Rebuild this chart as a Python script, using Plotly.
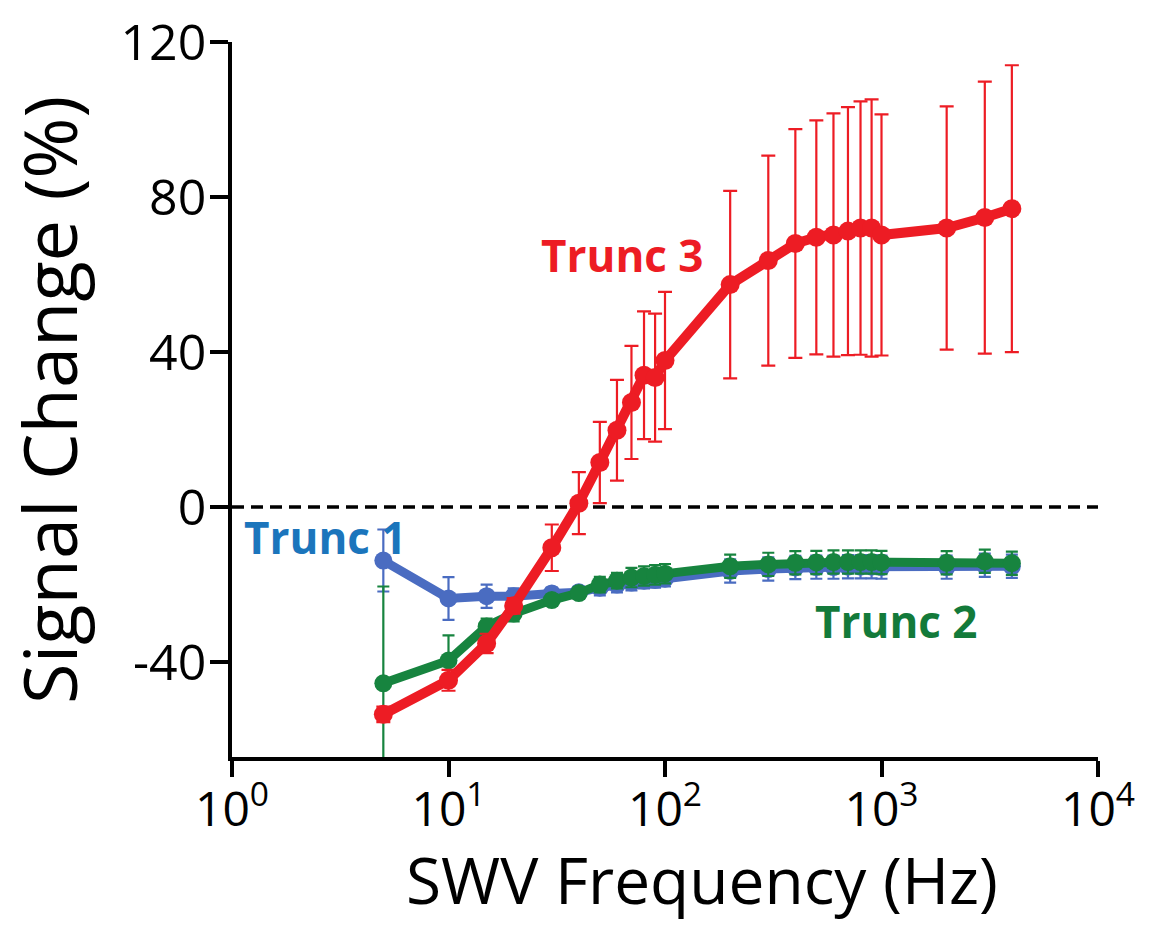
import plotly.graph_objects as go

freq = [5, 10, 15, 20, 30, 40, 50, 60, 70, 80, 90, 100,
        200, 300, 400, 500, 600, 700, 800, 900, 1000, 2000, 3000, 4000]

trunc1 = [-13.8, -23.6, -23.0, -23.0, -22.3, -22.0, -20.8, -20.0, -19.5, -19.0, -18.8, -18.5,
          -16.5, -16.0, -15.6, -15.5, -15.5, -15.4, -15.4, -15.4, -15.5, -15.5, -15.0, -15.3]
trunc1_err = [8, 5.5, 3, 2, 1.5, 1.5, 2, 2, 2, 2, 2, 2,
              3, 3, 3, 3, 3, 3, 3, 3, 3, 3, 3, 3]

trunc2 = [-45.5, -39.6, -30.8, -27.5, -24.0, -22.2, -20.0, -19.0, -18.2, -17.8, -17.5, -17.2,
          -15.3, -14.8, -14.4, -14.3, -14.2, -14.2, -14.2, -14.2, -14.3, -14.4, -14.0, -14.5]
trunc2_err = [25, 6.5, 2, 2, 1.5, 1.5, 2, 2, 2.5, 2.5, 2.5, 2.5,
              3, 3, 3, 3, 3, 3, 3, 3, 3, 3, 3, 3]

trunc3 = [-53.5, -44.7, -35.2, -25.5, -10.5, 1.0, 11.5, 19.8, 27.0, 34.0, 33.4, 37.8,
          57.4, 63.6, 68.0, 69.6, 70.2, 71.2, 72.0, 72.0, 70.2, 72.0, 74.7, 77.0]
trunc3_err = [2, 2.7, 2.5, 2, 6, 8, 10.5, 13, 14.6, 16.5, 16.5, 17.7,
              24.2, 27.1, 29.5, 30.2, 31.4, 32.0, 32.7, 33.2, 31.1, 31.4, 35.1, 37.0]

x_tickvals = [1, 10, 100, 1000, 10000]
x_ticktext = ["10<sup>0</sup>", "10<sup>1</sup>", "10<sup>2</sup>", "10<sup>3</sup>", "10<sup>4</sup>"]
y_tickvals = [-40, 0, 40, 80, 120]
y_ticktext = ["-40", "0", "40", "80", "120"]

RED = "#ED1C24"
BLUE = "#4A6CC1"
BLUE_TXT = "#1B75BC"
GREEN = "#17843F"
GREEN_TXT = "#137A3A"
FONT = "Open Sans"

fig = go.Figure()

def add_series(y, err, color, lw, ms, ew, cw):
    fig.add_trace(go.Scatter(
        x=freq, y=y, mode="lines+markers",
        line=dict(color=color, width=lw),
        marker=dict(color=color, size=ms),
        error_y=dict(type="data", array=err, visible=True,
                     color=color, thickness=ew, width=cw),
        showlegend=False, hoverinfo="skip",
    ))

add_series(trunc1, trunc1_err, BLUE, 9, 18, 2.2, 6)
add_series(trunc2, trunc2_err, GREEN, 9, 18, 2.2, 6)
add_series(trunc3, trunc3_err, RED, 10, 19, 2.2, 7)

fig.add_shape(type="line", xref="paper", yref="y", x0=0, x1=1, y0=0, y1=0,
              line=dict(color="black", width=3.5, dash="12px,7px"), layer="below")

fig.add_annotation(x=1.803, y=65, xref="x", yref="y", text="<b>Trunc 3</b>",
                   showarrow=False, font=dict(family=FONT, size=44, color=RED))
fig.add_annotation(x=0.433, y=-7.8, xref="x", yref="y", text="<b>Trunc 1</b>",
                   showarrow=False, font=dict(family=FONT, size=44, color=BLUE_TXT))
fig.add_annotation(x=3.07, y=-29.3, xref="x", yref="y", text="<b>Trunc 2</b>",
                   showarrow=False, font=dict(family=FONT, size=44, color=GREEN_TXT))

fig.add_annotation(x=0.543, y=-0.172, xref="paper", yref="paper", yanchor="middle",
                   text="SWV Frequency (Hz)", showarrow=False,
                   font=dict(family=FONT, size=64, color="black"))
fig.add_annotation(x=-0.212, y=0.5, xref="paper", yref="paper",
                   xanchor="center", yanchor="middle", textangle=-90,
                   text="Signal Change (%)", showarrow=False,
                   font=dict(family=FONT, size=74, color="black"))

fig.update_layout(
    width=1163, height=925,
    margin=dict(l=224, r=73, t=34, b=176, autoexpand=False),
    paper_bgcolor="white", plot_bgcolor="white",
    font=dict(family=FONT, color="black"),
    xaxis=dict(
        type="log", range=[0, 4], automargin=False,
        tickvals=x_tickvals, ticktext=x_ticktext,
        ticks="outside", ticklen=16, tickwidth=3.5, tickcolor="black",
        showline=True, linewidth=3.5, linecolor="black",
        showgrid=False, zeroline=False, ticklabeloverflow="allow",
        ticklabelstandoff=-8,
        tickfont=dict(family=FONT, size=48, color="black"),
    ),
    yaxis=dict(
        range=[-64.5, 120], automargin=False,
        tickvals=y_tickvals, ticktext=y_ticktext,
        ticks="outside", ticklen=18, tickwidth=3.5, tickcolor="black",
        showline=True, linewidth=3.5, linecolor="black",
        showgrid=False, zeroline=False, ticklabeloverflow="allow",
        ticklabelstandoff=-6,
        tickfont=dict(family=FONT, size=50, color="black"),
    ),
)

fig.write_html("out.html")
